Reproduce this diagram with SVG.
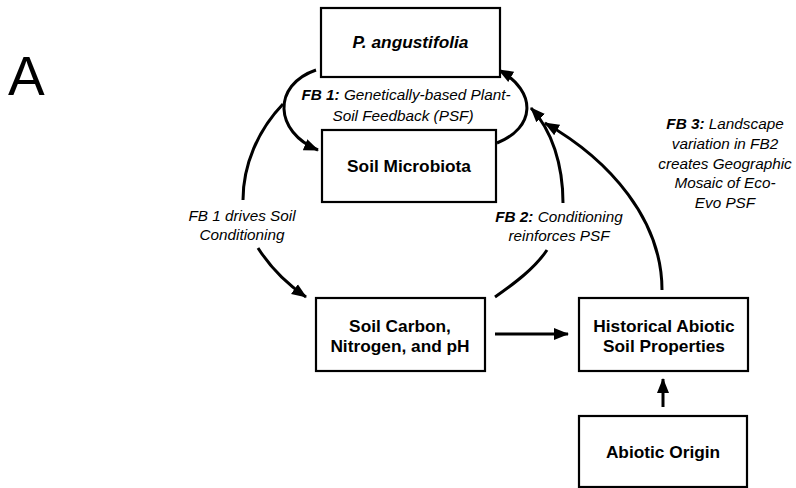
<svg xmlns="http://www.w3.org/2000/svg" width="796" height="488" viewBox="0 0 796 488">
<defs>
<marker id="ah" markerUnits="userSpaceOnUse" markerWidth="16" markerHeight="14" viewBox="0 0 16 14" refX="14" refY="7" orient="auto">
<path d="M0,1 L15,7 L0,13 z" fill="#000"/>
</marker>
<style>
.box{fill:#fff;stroke:#000;stroke-width:2.2}
.bt{font-family:"Liberation Sans",Arial,sans-serif;font-weight:bold;font-size:17.3px;fill:#000;text-anchor:middle}
.lb{font-family:"Liberation Sans",Arial,sans-serif;font-style:italic;font-size:15.3px;fill:#000;text-anchor:middle}
.lb .b{font-weight:bold}
.c{fill:none;stroke:#000;stroke-width:3}
.ca{fill:none;stroke:#000;stroke-width:3;marker-end:url(#ah)}
</style>
</defs>
<rect width="796" height="488" fill="#fff"/>
<text x="8" y="95" font-family="'Liberation Sans',Arial,sans-serif" font-size="55">A</text>
<g id="connectors">
<path class="ca" d="M316,70 C272,85 274,132 318,150"/>
<path class="ca" d="M497,143 C535,128 538,92 499,70"/>
<path class="c" d="M283,104 C258,130 243,165 243,200"/>
<path class="ca" d="M258,248 C272,270 287,284 306,297"/>
<path class="c" d="M495,297 C515,283 535,268 547,250"/>
<path class="ca" d="M563,203 C563,165 552,130 531,108"/>
<path class="ca" d="M662,290 C662,220 610,160 545,123"/>
<path class="ca" d="M495,334 L568,334"/>
<path class="ca" d="M663,407 L663,379"/>
</g>
<g id="labels">
<text class="lb"><tspan x="406" y="100"><tspan class="b">FB 1:</tspan> Genetically-based Plant-</tspan><tspan x="403" y="121">Soil Feedback (PSF)</tspan></text>
<text class="lb"><tspan x="242" y="221">FB 1 drives Soil</tspan><tspan x="242" y="240">Conditioning</tspan></text>
<text class="lb"><tspan x="559" y="222"><tspan class="b">FB 2:</tspan> Conditioning</tspan><tspan x="559" y="241">reinforces PSF</tspan></text>
<text class="lb"><tspan x="725" y="129"><tspan class="b">FB 3:</tspan> Landscape</tspan><tspan x="725" y="149">variation in FB2</tspan><tspan x="725" y="169">creates Geographic</tspan><tspan x="725" y="188">Mosaic of Eco-</tspan><tspan x="725" y="208">Evo PSF</tspan></text>
</g>
<g id="n1"><rect class="box" x="321" y="8" width="179" height="69"/><text class="bt" x="410.5" y="48" font-style="italic">P. angustifolia</text></g>
<g id="n2"><rect class="box" x="322" y="130" width="174" height="72"/><text class="bt" x="409" y="172">Soil Microbiota</text></g>
<g id="n3"><rect class="box" x="316" y="298" width="169" height="73"/><text class="bt"><tspan x="400" y="332">Soil Carbon,</tspan><tspan x="400" y="352">Nitrogen, and pH</tspan></text></g>
<g id="n4"><rect class="box" x="579" y="298" width="169" height="73"/><text class="bt"><tspan x="664" y="332">Historical Abiotic</tspan><tspan x="664" y="352">Soil Properties</tspan></text></g>
<g id="n5"><rect class="box" x="579" y="416" width="168" height="71"/><text class="bt" x="663" y="458">Abiotic Origin</text></g>
</svg>
